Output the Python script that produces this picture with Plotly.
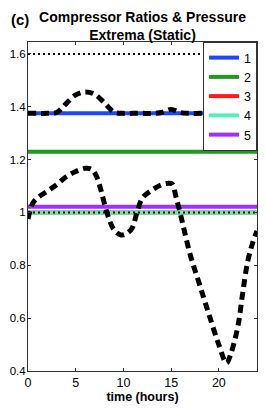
import plotly.graph_objects as go

# ---- data ----
t_const = [0, 24]
ratio_names = ["1", "2", "3", "4", "5"]
ratio_values = [1.375, 1.23, 1.0, 1.0, 1.022]
ratio_colors = ["#2244ff", "#1e9a1e", "#ff1a1a", "#55f0b4", "#a030ff"]

limit_upper = 1.6
limit_lower = 1.0

t_upper = [0, 1, 2, 3, 4, 5, 6, 7, 8, 9, 10, 11, 12, 13, 14, 15, 16, 17, 18, 19, 20, 21, 22, 23, 24]
p_upper = [1.375, 1.375, 1.375, 1.378, 1.412, 1.445, 1.456, 1.447, 1.415, 1.38, 1.375, 1.375,
           1.375, 1.375, 1.378, 1.39, 1.378, 1.375, 1.375, 1.375, 1.375, 1.375, 1.375, 1.375, 1.375]

t_lower = [0, 0.5, 1, 2, 3, 4, 5, 6, 6.7, 7.2, 7.6, 8, 8.5, 9, 9.7, 10.3, 10.9, 11.4, 12, 13, 14,
           14.6, 15.1, 15.5, 16, 17, 18, 19, 20, 20.8, 21.3, 22, 22.5, 23, 23.5, 24]
p_lower = [0.975, 1.035, 1.055, 1.08, 1.105, 1.135, 1.155, 1.167, 1.163, 1.135, 1.09, 1.035,
           0.975, 0.935, 0.915, 0.92, 0.94, 0.997, 1.055, 1.085, 1.105, 1.11, 1.108, 1.06,
           0.99, 0.84, 0.725, 0.61, 0.5, 0.43, 0.47, 0.57, 0.695, 0.81, 0.88, 0.93]

y_ticks = [0.4, 0.6, 0.8, 1.0, 1.2, 1.4, 1.6]
y_tick_labels = ["0.4", "0.6", "0.8", "1", "1.2", "1.4", "1.6"]
x_ticks = [0, 5, 10, 15, 20]

fig = go.Figure()

for name, val, col in zip(ratio_names, ratio_values, ratio_colors):
    fig.add_trace(go.Scatter(x=t_const, y=[val, val], mode="lines", name=name,
                             line=dict(color=col, width=4)))

for lim in (limit_upper, limit_lower):
    fig.add_trace(go.Scatter(x=t_const, y=[lim, lim], mode="lines", showlegend=False,
                             line=dict(color="black", width=2, dash="2px,3px")))

for tt, pp in ((t_upper, p_upper), (t_lower, p_lower)):
    fig.add_trace(go.Scatter(x=tt, y=pp, mode="lines", showlegend=False,
                             line=dict(color="black", width=5, dash="8px,5px", shape="spline")))

axis_common = dict(showgrid=False, zeroline=False, showline=True, mirror="ticks",
                   linecolor="#333333", linewidth=1, ticks="inside", ticklen=3,
                   tickcolor="#333333", automargin=False)

# page body adds an 8px offset, so the figure is sized to fit the window
fig.update_layout(
    width=258, height=400,
    margin=dict(l=20, r=9, t=34, b=37, autoexpand=False),
    paper_bgcolor="white", plot_bgcolor="white",
    font=dict(family="Liberation Sans", color="black"),
    title=dict(text="<b>Compressor Ratios & Pressure<br>Extrema (Static)</b>",
               xref="paper", x=0.5, xanchor="center",
               yref="container", y=0.966, yanchor="middle", automargin=False,
               font=dict(family="Liberation Sans", size=14, color="black")),
    xaxis=dict(range=[0, 24], tickvals=x_ticks,
               tickfont=dict(family="Liberation Sans", size=12.5, color="black"),
               title=dict(text="<b>time (hours)</b>", standoff=2,
                          font=dict(family="Liberation Sans", size=12.5, color="black")),
               **axis_common),
    yaxis=dict(range=[0.4, 1.645], tickvals=y_ticks, ticktext=y_tick_labels,
               tickfont=dict(family="Liberation Sans", size=11.5, color="black"),
               ticklabelstandoff=-1, **axis_common),
    legend=dict(x=1, xanchor="right", y=1, yanchor="top", bgcolor="white",
                bordercolor="#333333", borderwidth=1,
                font=dict(family="Liberation Sans", size=12.5, color="black"),
                tracegroupgap=0, itemwidth=30),
    showlegend=True,
)

fig.add_annotation(text="<b>(c)</b>", xref="paper", yref="paper", x=-0.085, y=1.10,
                   xanchor="left", yanchor="top", showarrow=False,
                   font=dict(family="Liberation Sans", size=15, color="black"))

fig.write_html("out.html")
